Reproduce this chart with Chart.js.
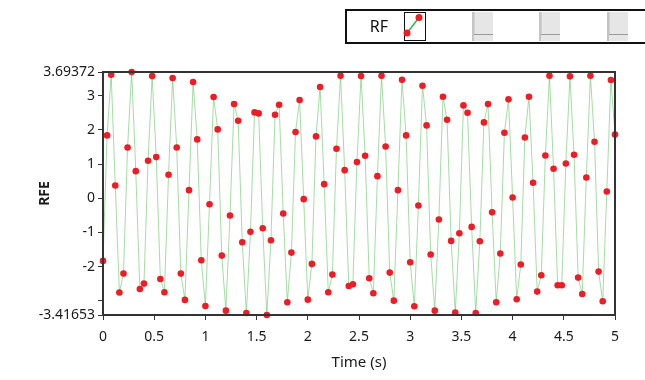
<!DOCTYPE html>
<html>
<head>
<meta charset="utf-8">
<script src="https://cdn.jsdelivr.net/npm/chart.js@4.4.0/dist/chart.umd.min.js"></script>
<style>
  body { margin: 0; background: #fff; }
  #wrap { width: 645px; height: 380px; }
</style>
</head>
<body>
<div id="wrap"><canvas id="rfChart" width="645" height="380"></canvas></div>
<script>
// RFE samples, one every 0.04 s from t = 0 to t = 5
const sampleStep = 0.04;
const rfe = [
  -1.834, 1.838, 3.615, 0.373, -2.760, -2.205, 1.486, 3.69372, 0.793, -2.654,
  -2.498, 1.096, 3.576, 1.203, -2.361, -2.752, 0.686, 3.518, 1.486, -2.205,
  -2.975, 0.236, 3.400, 1.721, -1.814, -3.152, -0.174, 2.961, 2.014, -1.678,
  -3.289, -0.506, 2.756, 2.268, -1.287, -3.357, -0.984, 2.512, 2.482, -0.877,
  -3.41653, -1.229, 2.443, 2.736, -0.447, -3.045, -1.590, 1.936, 2.873, -0.027,
  -2.967, -1.922, 1.809, 3.254, 0.412, -2.752, -2.234, 1.447, 3.586, 0.822,
  -2.566, -2.518, 1.057, 3.576, 1.242, -2.342, -2.781, 0.646, 3.586, 1.516,
  -2.176, -2.996, 0.236, 3.469, 1.838, -1.873, -3.162, -0.213, 3.293, 2.131,
  -1.648, -3.289, -0.623, 2.971, 2.297, -1.248, -3.348, -1.023, 2.717, 2.502,
  -0.838, -3.357, -1.258, 2.219, 2.756, -0.408, -3.045, -1.619, 1.916, 2.893,
  0.021, -2.957, -1.941, 1.779, 2.971, 0.451, -2.732, -2.254, 1.252, 3.586,
  0.861, -2.547, -2.547, 1.018, 3.566, 1.271, -2.322, -2.801, 0.607, 3.586,
  1.652, -2.146, -3.016, 0.197, 3.459, 1.867
];

const yMin = -3.41653;
const yMax = 3.69372;
const yTicks = [yMin, -3, -2, -1, 0, 1, 2, 3, yMax];
const xTicks = [0, 0.5, 1, 1.5, 2, 2.5, 3, 3.5, 4, 4.5, 5];
const seriesName = "RF";

const FONT = "'Noto Sans', 'Open Sans', sans-serif";
const RED = "#ee1c25";
const GREEN = "rgba(105, 196, 105, 0.6)";

const points = rfe.map((v, i) => ({ x: +(i * sampleStep).toFixed(2), y: v }));

// dark frame round the plot area
const frame = {
  id: "frame",
  afterDraw(chart) {
    const { ctx, chartArea: a } = chart;
    ctx.save();
    ctx.strokeStyle = "#333";
    ctx.lineWidth = 2;
    ctx.strokeRect(a.left, a.top, a.right - a.left, a.bottom - a.top);
    ctx.restore();
  }
};

// legend strip at the top: name, active icon, then greyed empty slots
const legendStrip = {
  id: "legendStrip",
  afterDraw(chart) {
    const ctx = chart.ctx;
    ctx.save();
    ctx.fillStyle = "#fff";
    ctx.fillRect(346, 10, 310, 33);
    ctx.strokeStyle = "#111";
    ctx.lineWidth = 2;
    ctx.strokeRect(346, 10, 310, 33);

    ctx.fillStyle = "#111";
    ctx.font = "16px " + FONT;
    ctx.textAlign = "center";
    ctx.textBaseline = "middle";
    ctx.fillText(seriesName, 379, 27);

    // active icon
    ctx.lineWidth = 1;
    ctx.strokeStyle = "#111";
    ctx.strokeRect(404.5, 12.5, 21, 28);
    ctx.strokeStyle = "#2fb84a";
    ctx.lineWidth = 1.5;
    ctx.beginPath();
    ctx.moveTo(407, 33);
    ctx.lineTo(419, 17.5);
    ctx.stroke();
    ctx.fillStyle = RED;
    [[407, 33], [419, 17.5]].forEach(([x, y]) => {
      ctx.beginPath();
      ctx.arc(x, y, 3.5, 0, Math.PI * 2);
      ctx.fill();
    });

    // disabled slots
    [472, 539, 607].forEach(x => {
      ctx.fillStyle = "#e6e6e6";
      ctx.fillRect(x, 12, 21, 29);
      ctx.fillStyle = "#c4c4c4";
      ctx.fillRect(x, 12, 2, 29);
      ctx.fillStyle = "#9a9a9a";
      ctx.fillRect(x + 2, 34, 19, 1);
      ctx.fillStyle = "#d2d2d2";
      ctx.fillRect(x + 2, 12, 1, 22);
    });
    ctx.restore();
  }
};

new Chart("rfChart", {
  type: "scatter",
  data: {
    datasets: [{
      label: seriesName,
      data: points,
      showLine: true,
      borderColor: GREEN,
      borderWidth: 1,
      pointRadius: 3.3,
      pointBackgroundColor: RED,
      pointBorderColor: RED,
      pointBorderWidth: 0,
      clip: false
    }]
  },
  options: {
    responsive: false,
    animation: false,
    layout: { padding: { top: 72, right: 30, left: 0, bottom: 0 } },
    plugins: {
      legend: { display: false },
      tooltip: { enabled: false }
    },
    scales: {
      x: {
        type: "linear",
        min: 0,
        max: 5,
        afterFit: s => { s.height = 65; },
        afterBuildTicks: s => { s.ticks = xTicks.map(v => ({ value: v })); },
        grid: { drawOnChartArea: false, drawTicks: true, tickLength: 5, color: "#333" },
        border: { display: false },
        ticks: {
          padding: 9,
          color: "#1a1a1a",
          font: { family: FONT, size: 14 },
          callback: v => String(v)
        },
        title: {
          display: true,
          text: "Time (s)",
          color: "#1a1a1a",
          font: { family: FONT, size: 15 },
          padding: { top: 0, bottom: 8 }
        }
      },
      y: {
        min: yMin,
        max: yMax,
        afterFit: s => { s.width = 103; },
        afterBuildTicks: s => { s.ticks = yTicks.map(v => ({ value: v })); },
        grid: { drawOnChartArea: false, drawTicks: true, tickLength: 5, color: "#333" },
        border: { display: false },
        ticks: {
          autoSkip: false,
          padding: 3,
          color: "#1a1a1a",
          font: { family: FONT, size: 14 },
          callback: v => {
            if (v === yMin) return "-3.41653";
            if (v === yMax) return "3.69372";
            if (v === -3) return "";
            return String(v);
          }
        },
        title: {
          display: true,
          text: "RFE",
          color: "#1a1a1a",
          font: { family: FONT, size: 14, weight: "bold" },
          padding: { top: 37, bottom: 0 }
        }
      }
    }
  },
  plugins: [frame, legendStrip]
});
</script>
</body>
</html>
